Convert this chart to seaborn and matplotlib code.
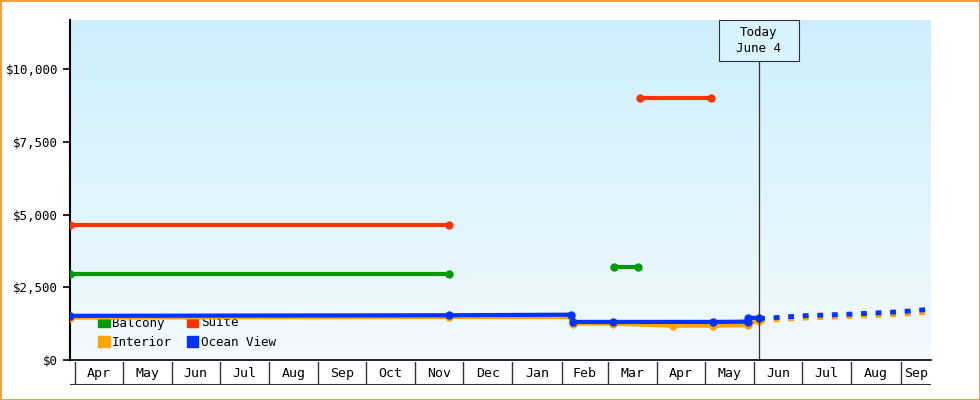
import pandas as pd
import numpy as np
import matplotlib.pyplot as plt
import matplotlib.dates as mdates
import seaborn as sns

# price segments per cabin: dates and prices
balcony_dates = [["2023-03-29", "2023-11-22"], ["2024-03-05", "2024-03-20"]]
balcony_prices = [[2950, 2950], [3200, 3200]]
suite_dates = [["2023-03-29", "2023-11-22"], ["2024-03-21", "2024-05-05"]]
suite_prices = [[4650, 4650], [9000, 9000]]
interior_dates = [["2023-03-29", "2023-11-22", "2024-02-07", "2024-02-08", "2024-03-04",
                   "2024-04-11", "2024-05-06", "2024-05-28", "2024-05-28", "2024-06-04"]]
interior_prices = [[1460, 1480, 1480, 1250, 1250, 1180, 1180, 1200, 1250, 1350]]
ocean_dates = [["2023-03-29", "2023-11-22", "2024-02-07", "2024-02-08", "2024-03-04",
                "2024-05-06", "2024-05-28", "2024-05-28", "2024-06-04"]]
ocean_prices = [[1520, 1540, 1560, 1310, 1310, 1310, 1320, 1450, 1450]]
fc_dates = ["2024-06-04", "2024-07-01", "2024-08-01", "2024-09-01", "2024-09-20"]
fc_interior = [1350, 1440, 1500, 1570, 1650]
fc_ocean = [1420, 1520, 1580, 1660, 1750]

colors = {"Balcony": "#009900", "Suite": "#ff3300", "Interior": "#ffa500", "Ocean View": "#0033ff"}

rows = []
for cabin, ds, ps in [("Balcony", balcony_dates, balcony_prices), ("Suite", suite_dates, suite_prices),
                      ("Interior", interior_dates, interior_prices), ("Ocean View", ocean_dates, ocean_prices)]:
    for k, (d, p) in enumerate(zip(ds, ps)):
        for di, pi in zip(d, p):
            rows.append({"cabin": cabin, "seg": f"{cabin}{k}", "date": pd.Timestamp(di), "price": pi})
df = pd.DataFrame(rows)
fc = pd.DataFrame({"date": pd.to_datetime(fc_dates * 2),
                   "price": fc_interior + fc_ocean,
                   "cabin": ["Interior"] * 5 + ["Ocean View"] * 5})

plt.rcParams['font.family'] = ['DejaVu Sans Mono']
fig = plt.figure(figsize=(9.8, 4), dpi=100)
fig.patch.set_edgecolor("#f0a040")
fig.patch.set_linewidth(2)
ax = fig.add_axes([70/980, 40/400, 861/980, 340/400])
x0, x1 = mdates.date2num(pd.Timestamp("2023-03-29")), mdates.date2num(pd.Timestamp("2024-09-20"))
ymax = 11700
grad = np.linspace(0, 1, 256).reshape(-1, 1)
cmap = plt.matplotlib.colors.LinearSegmentedColormap.from_list("bg", ["#f2fafe", "#cdeffc"])
ax.imshow(grad, extent=[x0, x1, 0, ymax], origin="lower", aspect="auto", cmap=cmap, zorder=0)

sns.lineplot(data=fc, x="date", y="price", hue="cabin", palette=colors, ax=ax,
             linewidth=3.5, linestyle=(0, (1.2, 1.8)), legend=False, zorder=3)
sns.lineplot(data=df, x="date", y="price", hue="cabin", units="seg", estimator=None,
             palette=colors, ax=ax, linewidth=3, marker="o", markersize=6,
             markeredgewidth=0, zorder=4, legend=False)
ax.set_xlim(x0, x1)
ax.set_ylim(0, ymax)
ax.set_xlabel("")
ax.set_ylabel("")
ax.set_yticks([0, 2500, 5000, 7500, 10000])
ax.set_yticklabels(["$0", "$2,500", "$5,000", "$7,500", "$10,000"], fontsize=9)
ax.set_xticks([])
for s in ["top", "right"]:
    ax.spines[s].set_visible(False)
ax.spines["left"].set_linewidth(1.5)
ax.spines["bottom"].set_linewidth(1.2)
ax.tick_params(axis="y", length=5, width=1.2)

# legend
handles = [plt.Rectangle((0, 0), 1, 1, color=colors[c]) for c in ["Balcony", "Interior", "Suite", "Ocean View"]]
ax.legend(handles, ["Balcony", "Interior", "Suite", "Ocean View"], ncol=2, loc="lower left",
          frameon=False, fontsize=9, handlelength=0.9, handleheight=0.9, handletextpad=0.2,
          columnspacing=1.2, labelspacing=0.5, borderaxespad=0.5,
          bbox_to_anchor=(0.02, 0.0)).set_zorder(1)

# today marker
today = mdates.date2num(pd.Timestamp("2024-06-04"))
ax.plot([today, today], [0, 10300], color="#333333", linewidth=0.9, zorder=5)
fig.patches.append(plt.Rectangle((719/980, 1 - 61/400), 80/980, 41/400, transform=fig.transFigure,
                                 facecolor="#d9f3fd", edgecolor="#333333", linewidth=0.8, zorder=6))
fig.text(759/980, 1 - 40.5/400, "Today\nJune 4", ha="center", va="center", fontsize=9,
         linespacing=1.3, zorder=7)

# month strip
mx = fig.add_axes([70/980, 15/400, 861/980, 23/400], sharex=ax)
months = pd.date_range("2023-04-01", "2024-09-01", freq="MS")
mx.set_ylim(0, 1)
mx.set_xlim(x0, x1)
for m in months:
    mx.axvline(mdates.date2num(m), color="#333333", linewidth=1)
    nxt = min(mdates.date2num(m + pd.offsets.MonthBegin(1)), x1)
    mx.text((mdates.date2num(m) + nxt) / 2, 0.5, m.strftime("%b"), ha="center", va="center", fontsize=9.5)
mx.axis("off")
mx.axhline(0.0, color="#333333", linewidth=1.5)
fig.savefig("out.png", dpi=100)
